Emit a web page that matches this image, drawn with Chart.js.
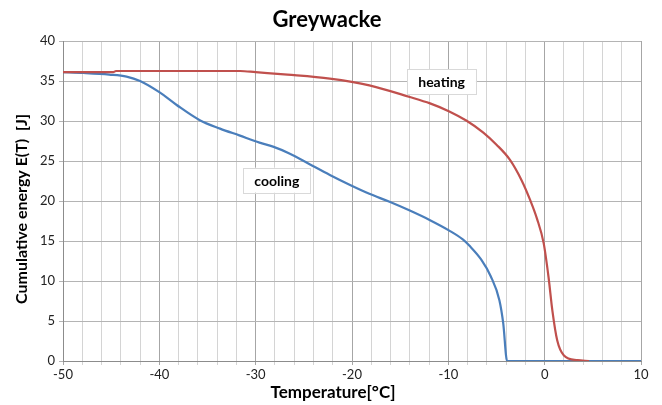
<!DOCTYPE html>
<html>
<head>
<meta charset="utf-8">
<script src="https://cdn.jsdelivr.net/npm/chart.js@4"></script>
<style>
    html, body { margin: 0; padding: 0; background: #fff; }
    #wrap { width: 662px; height: 405px; }
</style>
</head>
<body>
<div id="wrap"><canvas id="greyChart"></canvas></div>
<script>
// Temperature [°C] and cumulative energy [J]
const coolingT = [-50, -47.9, -45.2, -43.4, -42, -40, -38.2, -35.8, -33.7, -31.7, -29.6, -28.2, -26.5, -24.4, -22.3, -20.2, -18.2, -16.1, -14.0, -11.9, -9.9, -8.5, -7.8, -6.6, -5.6, -4.7, -4.3, -3.9, 10];
const coolingE = [36.1, 36.0, 35.8, 35.55, 35.0, 33.6, 32.0, 30.1, 29.05, 28.2, 27.3, 26.8, 25.95, 24.6, 23.25, 22.0, 20.9, 19.9, 18.8, 17.6, 16.3, 15.2, 14.4, 12.7, 10.6, 7.6, 4.7, 0, 0];

const heatingT = [-50, -44.8, -44.5, -31.6, -30, -26.7, -22.3, -18.2, -14.0, -11.9, -9.9, -8.1, -6.4, -5.0, -3.6, -2.4, -1.5, -0.8, -0.1, 0.4, 0.8, 1.3, 2.0, 3.4, 4.6];
const heatingE = [36.1, 36.1, 36.25, 36.25, 36.1, 35.8, 35.3, 34.46, 33.0, 32.2, 31.2, 30.03, 28.58, 27.04, 25.14, 22.6, 20.1, 17.8, 14.7, 10.5, 6.3, 2.6, 0.7, 0.1, 0];

const xMajorTicks = [-50, -40, -30, -20, -10, 0, 10];
const yTicks = [0, 5, 10, 15, 20, 25, 30, 35, 40];

// label boxes, placed in data coordinates
const curveLabels = [
    { text: 'heating', x: -10.7, y: 34.9 },
    { text: 'cooling', x: -27.8, y: 22.6 }
];

const FONT = 'Lato, "Open Sans", sans-serif';

const toPoints = (xs, ys) => xs.map((x, i) => ({ x: x, y: ys[i] }));

// title, axis titles and the two boxed curve labels
const textLayer = {
    id: 'textLayer',
    afterDatasetsDraw(chart) {
        const { ctx, scales } = chart;
        ctx.save();
        ctx.fillStyle = '#000';
        ctx.textAlign = 'center';
        ctx.textBaseline = 'middle';

        ctx.font = 'bold 22px ' + FONT;
        ctx.fillText('Greywacke', 327, 20);

        ctx.font = 'bold 17px ' + FONT;
        ctx.fillText('Temperature[°C]', 333, 393);

        ctx.save();
        ctx.translate(22, 209);
        ctx.rotate(-Math.PI / 2);
        ctx.font = 'bold 16px ' + FONT;
        ctx.fillText('Cumulative energy E(T)  [J]', 0, 0);
        ctx.restore();

        ctx.font = 'bold 14px ' + FONT;
        curveLabels.forEach(l => {
            const cx = scales.x.getPixelForValue(l.x);
            const cy = scales.y.getPixelForValue(l.y);
            const w = ctx.measureText(l.text).width + 22;
            const h = 25;
            ctx.fillStyle = '#fff';
            ctx.fillRect(cx - w / 2, cy - h / 2, w, h);
            ctx.strokeStyle = '#d9d9d9';
            ctx.lineWidth = 1;
            ctx.strokeRect(Math.round(cx - w / 2) + 0.5, Math.round(cy - h / 2) + 0.5, Math.round(w), h);
            ctx.fillStyle = '#000';
            ctx.fillText(l.text, cx, cy + 1);
        });
        ctx.restore();
    }
};

new Chart(document.getElementById('greyChart').getContext('2d'), {
    type: 'scatter',
    data: {
        datasets: [{
            label: 'heating',
            data: toPoints(heatingT, heatingE),
            showLine: true,
            borderColor: '#c0504d',
            borderWidth: 2.2,
            pointRadius: 0,
            cubicInterpolationMode: 'monotone'
        }, {
            label: 'cooling',
            data: toPoints(coolingT, coolingE),
            showLine: true,
            borderColor: '#4a7ebb',
            borderWidth: 2.2,
            pointRadius: 0,
            cubicInterpolationMode: 'monotone'
        }]
    },
    options: {
        responsive: true,
        maintainAspectRatio: false,
        animation: false,
        layout: { padding: { left: 0, right: 21, top: 41, bottom: 0 } },
        plugins: {
            legend: { display: false },
            tooltip: { enabled: false },
            title: { display: false }
        },
        scales: {
            x: {
                type: 'linear',
                min: -50,
                max: 10,
                afterFit: s => { s.height = 44; },
                afterBuildTicks: s => {
                    const t = [];
                    for (let v = -50; v <= 10; v += 2) t.push({ value: v });
                    s.ticks = t;
                },
                ticks: {
                    autoSkip: false,
                    maxRotation: 0,
                    padding: 2,
                    color: '#222',
                    font: { family: FONT, size: 13 },
                    callback: v => xMajorTicks.includes(v) ? String(v) : ''
                },
                grid: {
                    color: c => xMajorTicks.includes(c.tick.value) ? '#a6a6a6' : '#d4d4d4',
                    lineWidth: 1,
                    tickLength: 4
                },
                border: { color: '#8c8c8c' }
            },
            y: {
                min: 0,
                max: 40,
                afterFit: s => { s.width = 63; },
                afterBuildTicks: s => { s.ticks = yTicks.map(v => ({ value: v })); },
                ticks: {
                    padding: 4,
                    color: '#222',
                    font: { family: FONT, size: 13 }
                },
                grid: {
                    color: '#b4b4b4',
                    lineWidth: 1,
                    tickLength: 4
                },
                border: { color: '#8c8c8c' }
            }
        }
    },
    plugins: [textLayer]
});
</script>
</body>
</html>
